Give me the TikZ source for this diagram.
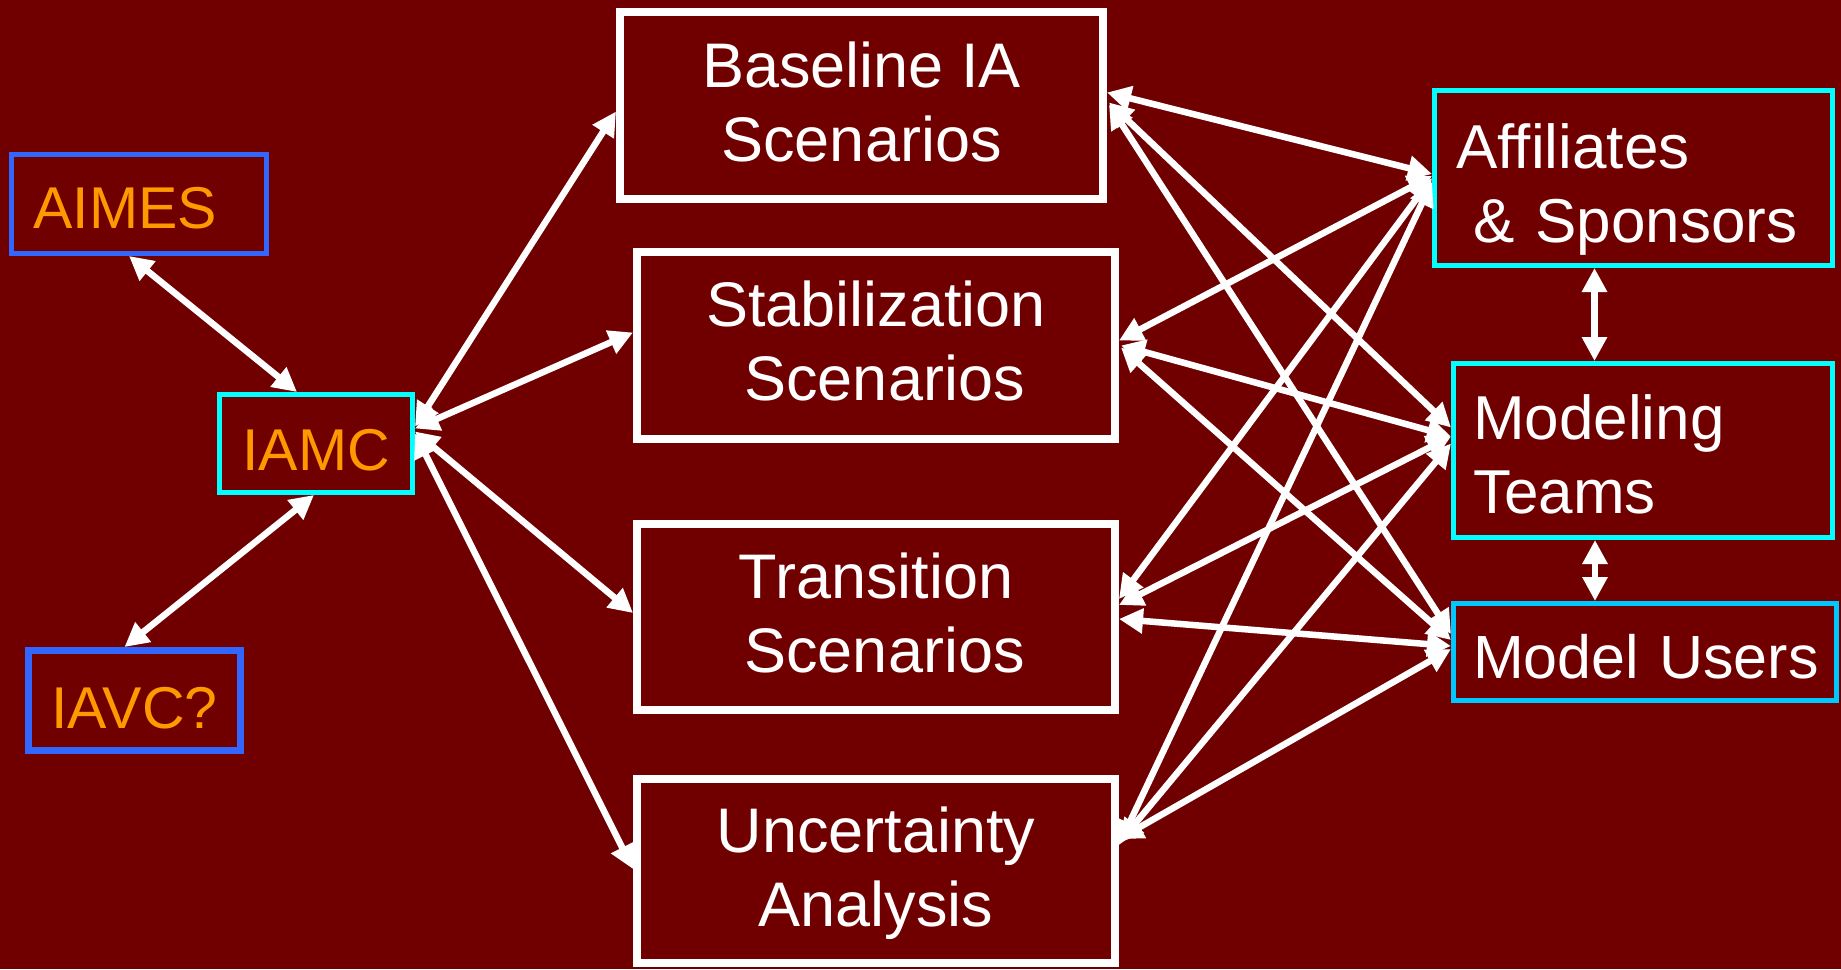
\documentclass[tikz,border=0pt]{standalone}
\usepackage{fontspec}
\setmainfont{Liberation Sans}
\usetikzlibrary{arrows.meta,calc}
\definecolor{bg}{RGB}{112,0,0}
\definecolor{org}{RGB}{255,153,0}
\definecolor{blu}{RGB}{51,102,255}
\definecolor{cyn}{RGB}{0,255,255}
\definecolor{cyb}{RGB}{0,200,255}
\newcommand{\upstrut}[1]{\rule{0pt}{#1}}
\newcommand{\dnstrut}[1]{\rule[-#1]{0pt}{#1}}
\begin{document}
\begin{tikzpicture}[x=1pt,y=-1pt,
  mbox/.style={draw=white, line width=8pt, rectangle, inner sep=0pt, text=white, align=center,
    font=\fontsize{63}{74}\selectfont},
  lbox/.style={rectangle, inner sep=0pt, text=org, font=\fontsize{59}{70}\selectfont},
  rbox/.style={draw=cyn, line width=5pt, rectangle, inner ysep=0pt, inner xsep=19.5pt, text=white, align=left,
    font=\fontsize{62}{74}\selectfont},
  arr/.style={draw=white, line width=6.5pt,
    {Triangle[length=24pt,width=24pt]}-{Triangle[length=24pt,width=24pt]}},
]
\fill[bg] (0,0) rectangle (1841,969);
\useasboundingbox (0,0) rectangle (1841,969);

% left
\node[lbox, draw=blu, line width=5pt, minimum width=255pt, minimum height=99pt,
  inner xsep=22pt, text width=211pt, align=left] (aimes) at (139,204) {\upstrut{50pt}AIMES};
\node[lbox, draw=cyn, line width=5pt, minimum width=193pt, minimum height=98pt] (iamc) at (316,443.5) {\upstrut{55pt}IAMC};
\node[lbox, draw=blu, line width=7pt, minimum width=212pt, minimum height=100pt] (iavc) at (134.5,700.5) {\upstrut{57pt}IAVC?};

% middle
\node[mbox, minimum width=483pt, minimum height=187pt] (base) at (861.5,105.5) {Baseline IA\\Scenarios\dnstrut{7pt}};
\node[mbox, minimum width=478pt, minimum height=187pt] (stab) at (876,345.5) {Stabilization\\\hspace*{17pt}Scenarios\dnstrut{10pt}};
\node[mbox, minimum width=478pt, minimum height=186pt] (trans) at (876,617) {Transition\\\hspace*{17pt}Scenarios\dnstrut{8pt}};
\node[mbox, minimum width=478pt, minimum height=184pt] (unc) at (876,871) {\upstrut{50pt}Uncertainty\\Analysis};

% right
\node[rbox, minimum width=398pt, minimum height=175pt, inner xsep=22pt, text width=354pt] (affil) at (1633.5,178) {\upstrut{67pt}Affiliates\\\hspace*{17pt}\& Sponsors};
\node[rbox, minimum width=379pt, minimum height=174pt, text width=340pt] (model) at (1643,450.5) {\upstrut{53pt}Modeling\\Teams};
\node[rbox, draw=cyb, minimum width=383pt, minimum height=97pt, text width=344pt,
  font=\fontsize{61}{74}\selectfont] (users) at (1645,652) {\upstrut{53pt}Model~Users};

% left arrows
\draw[arr] ($(aimes.south)+(-10,0)$) -- ($(iamc.north)+(-19,0)$);
\draw[arr] ($(iamc.south)+(-2,0)$) -- ($(iavc.north)+(-10,0)$);
\draw[arr] ($(iamc.east)+(0,-17)$) -- ($(base.west)+(0,6)$);
\draw[arr] ($(iamc.east)+(0,-15)$) -- ($(stab.west)+(0,-13)$);
\draw[arr] ($(iamc.east)+(0,-12)$) -- ($(trans.west)+(0,-4)$);
\draw[arr] ($(iamc.east)+(0,-10)$) -- ($(unc.west)+(0,-2)$);

% right arrows
\draw[arr] ($(base.east)+(0,-13)$) -- ($(affil.west)+(0,-4)$);
\draw[arr] ($(base.east)+(2,-3)$) -- ($(model.west)+(0,-23)$);
\draw[arr] ($(base.east)+(2,-1)$) -- ($(users.west)+(0,-18)$);
\draw[arr] ($(stab.east)+(0,-5)$) -- ($(affil.west)+(0,-2)$);
\draw[arr] ($(stab.east)+(2,0)$) -- ($(model.west)+(0,-14)$);
\draw[arr] ($(stab.east)+(2,2)$) -- ($(users.west)+(0,-12)$);
\draw[arr] ($(trans.east)+(0,-18)$) -- ($(affil.west)+(0,0)$);
\draw[arr] ($(trans.east)+(0,-12)$) -- ($(model.west)+(0,-14)$);
\draw[arr] ($(trans.east)+(0,2)$) -- ($(users.west)+(0,-6)$);
\draw[arr] ($(unc.east)+(0,-26)$) -- ($(affil.west)+(0,4)$);
\draw[arr] ($(unc.east)+(0,-28)$) -- ($(model.west)+(0,-7)$);
\draw[arr] ($(unc.east)+(0,-32)$) -- ($(users.west)+(0,-3)$);

% vertical arrows
\draw[arr] ($(affil.south)+(-39,0)$) coordinate (v1) -- (v1 |- model.north);
\draw[arr] ($(model.south)+(-48,0)$) coordinate (v2) -- (v2 |- users.north);
\end{tikzpicture}
\end{document}
